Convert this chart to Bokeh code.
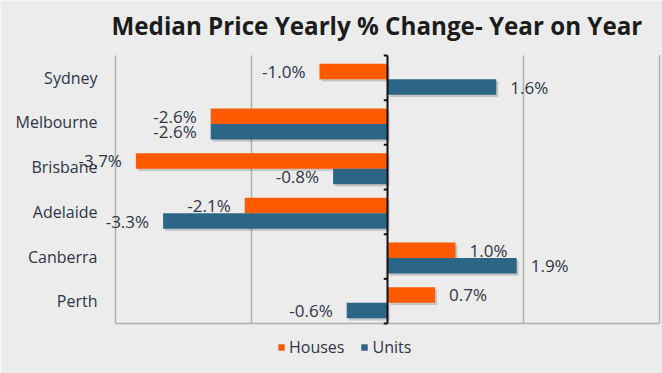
import numpy as np
from bokeh.plotting import figure
from bokeh.models import (ColumnDataSource, Range1d, Legend, LegendItem, Label)
from bokeh.core.properties import value
from bokeh.embed import file_html
from bokeh.resources import INLINE

# ---- data ----
cities = ["Sydney", "Melbourne", "Brisbane", "Adelaide", "Canberra", "Perth"]
houses = [-1.0, -2.6, -3.7, -2.1, 1.0, 0.7]
units = [1.6, -2.6, -0.8, -3.3, 1.9, -0.6]
series = ["Houses", "Units"]
x_ticks = [-4, -2, 2, 4]
title_text = "Median Price Yearly % Change- Year on Year"

# ---- style ----
BG = "#ececec"
ORANGE = "#ff5a00"
BLUE = "#2b6686"
GRID = "#b0b0b0"
TXT = "#2e3448"
FONT = "Open Sans"

W, H = 662, 373
PX_PER_X = 68.0          # pixels per 1 percentage point
ZERO_PX = 387            # pixel of x = 0
PX_PER_Y = 44.67         # pixels per category band
CHART_TOP, CHART_BOTTOM = 55, 323

n = len(cities)
pos = np.arange(n)[::-1] + 0.5          # Sydney at top
bar_h = 0.347
h_off, u_off = 0.14, -0.207

x_start = -ZERO_PX / PX_PER_X
x_end = (W - ZERO_PX) / PX_PER_X
y_end = n + CHART_TOP / PX_PER_Y
y_start = -(H - CHART_BOTTOM) / PX_PER_Y


def mk(vals, off):
    vals = np.array(vals, dtype=float)
    return dict(
        y=pos + off,
        left=np.minimum(vals, 0),
        right=np.maximum(vals, 0),
        val=vals,
        label=[f"{v:.1f}%" for v in vals],
        align=["right" if v < 0 else "left" for v in vals],
        xo=[-14 if v < 0 else 14 for v in vals],
        sy=pos + off - 0.05,
        sleft=np.minimum(vals, 0) + 0.03,
        sright=np.maximum(vals, 0) + 0.03,
    )


src_h = ColumnDataSource(mk(houses, h_off))
src_u = ColumnDataSource(mk(units, u_off))

p = figure(width=W, height=H, output_backend="svg", toolbar_location=None,
           x_range=Range1d(x_start, x_end), y_range=Range1d(y_start, y_end),
           min_border_left=0, min_border_right=0,
           min_border_top=0, min_border_bottom=0)
p.background_fill_color = BG
p.border_fill_color = BG
p.outline_line_color = None
p.axis.visible = False
p.grid.visible = False

# title
p.add_layout(Label(x=111, y=H - 25, x_units="screen", y_units="screen",
                   text=title_text, text_baseline="middle", text_align="left",
                   text_font=FONT, text_font_size="24.2px", text_font_style="bold",
                   text_color="#1c1c1c"))

# grid lines (left / right borders at -4 and 4) and bottom border
p.segment(x0=x_ticks, x1=x_ticks, y0=[0] * len(x_ticks), y1=[n] * len(x_ticks),
          line_color=GRID, line_width=1.5)
p.segment(x0=[x_ticks[0]], x1=[x_ticks[-1]], y0=[0], y1=[0],
          line_color=GRID, line_width=1.5)

# category labels
p.text(x=[x_ticks[0]] * n, y=pos, text=cities, x_offset=-18,
       text_align="right", text_baseline="middle",
       text_font=value(FONT), text_font_size="16px", text_color=TXT)

# shadows
for s in (src_h, src_u):
    p.hbar(y="sy", left="sleft", right="sright", height=bar_h, source=s,
           fill_color="#000000", fill_alpha=0.16, line_color=None)

rh = p.hbar(y="y", left="left", right="right", height=bar_h, source=src_h,
            fill_color=ORANGE, line_color=None)
ru = p.hbar(y="y", left="left", right="right", height=bar_h, source=src_u,
            fill_color=BLUE, line_color=None)

# zero axis with ticks at category boundaries
bounds = np.arange(n + 1)
p.segment(x0=[0], x1=[0], y0=[0], y1=[n], line_color="#111111", line_width=2)
p.segment(x0=[-0.055] * len(bounds), x1=[0] * len(bounds), y0=bounds, y1=bounds,
          line_color="#111111", line_width=2)

# value labels
for s in (src_h, src_u):
    p.text(x="val", y="y", text="label", source=s,
           x_offset="xo", text_align="align", text_baseline="middle",
           text_font=value(FONT), text_font_size="17px", text_color=TXT)

legend = Legend(items=[LegendItem(label=series[0], renderers=[rh]),
                       LegendItem(label=series[1], renderers=[ru])],
                orientation="horizontal", location=(277, 15),
                glyph_width=8, glyph_height=8, label_standoff=4, spacing=16,
                label_height=16, padding=0, margin=0,
                background_fill_alpha=0, border_line_color=None,
                label_text_font=FONT, label_text_font_size="16px",
                label_text_color=TXT)
p.add_layout(legend, "center")

open("out.html", "w").write(file_html(p, INLINE))
